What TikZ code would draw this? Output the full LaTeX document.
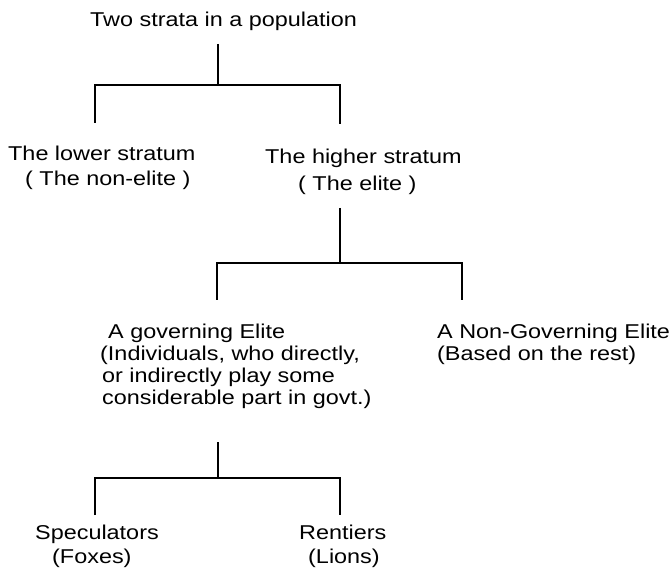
\documentclass[tikz,border=0pt]{standalone}
\usepackage{fontspec}
\setmainfont{Liberation Sans}[FakeStretch=1.17]
\begin{document}
\begin{tikzpicture}[x=1pt,y=-1pt,
  lbl/.style={anchor=base west,inner sep=0pt,font=\fontsize{20}{22}\selectfont},
  branch/.style={draw=black,line width=1.1pt}]
\useasboundingbox (0,0) rectangle (670,572);

% text of the tree
\node[lbl] (title)  at (90,27)  {Two strata in a population};
\node[lbl] (lowA)   at (8,161)  {The lower stratum};
\node[lbl] (lowB)   at (25,186) {( The non-elite )};
\node[lbl] (highA)  at (265,164) {The higher stratum};
\node[lbl] (highB)  at (298,191) {( The elite )};
\node[lbl] (govA)   at (108,338) {A governing Elite};
\node[lbl] (govB)   at (100,360) {(Individuals, who directly,};
\node[lbl] (govC)   at (102,382) {or indirectly play some};
\node[lbl] (govD)   at (102,404) {considerable part in govt.)};
\node[lbl] (ngovA)  at (437,339) {A Non-Governing Elite};
\node[lbl] (ngovB)  at (437,360) {(Based on the rest)};
\node[lbl] (specA)  at (35,539) {Speculators};
\node[lbl] (specB)  at (52,563) {(Foxes)};
\node[lbl] (rentA)  at (299,539) {Rentiers};
\node[lbl] (rentB)  at (308,563) {(Lions)};

% stems, junctions and branch ends
\coordinate (s1) at (218,44);  \coordinate (j1) at (218,85);
\coordinate (l1) at (95,123);  \coordinate (r1) at (340,124);
\coordinate (s2) at (340,208); \coordinate (j2) at (340,263);
\coordinate (l2) at (217,300); \coordinate (r2) at (462,300);
\coordinate (s3) at (218,442); \coordinate (j3) at (218,478);
\coordinate (l3) at (95,515);  \coordinate (r3) at (340,515);

\draw[branch] (s1) -- (j1);
\draw[branch] (l1) |- (j1) -| (r1);
\draw[branch] (s2) -- (j2);
\draw[branch] (l2) |- (j2) -| (r2);
\draw[branch] (s3) -- (j3);
\draw[branch] (l3) |- (j3) -| (r3);
\end{tikzpicture}
\end{document}
